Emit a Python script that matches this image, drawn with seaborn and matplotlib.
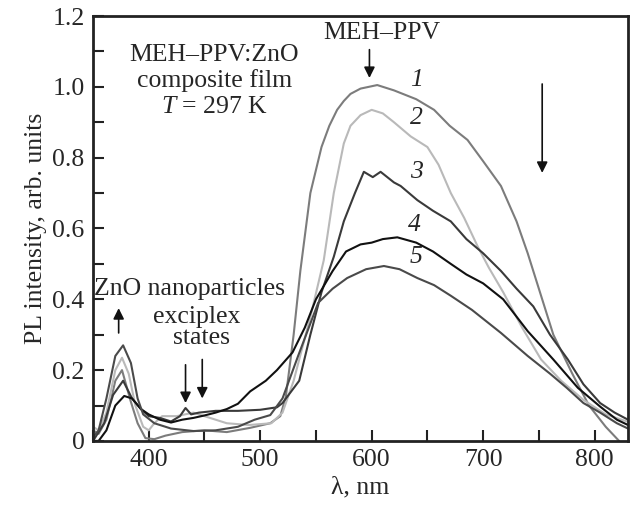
import numpy as np
import pandas as pd
import seaborn as sns
import matplotlib
matplotlib.use('Agg')
import matplotlib.pyplot as plt
from matplotlib.ticker import MultipleLocator, FixedFormatter, FixedLocator

# curve 1
wl_1 = [350, 355, 362, 370, 376, 384, 390, 397, 405, 415, 430, 450, 470, 491, 509, 518, 523,
        530, 536, 545, 555, 562, 569, 575, 581, 590, 605, 620, 640, 656, 670, 686, 700, 716, 730,
        740, 750, 763, 780, 795, 810, 822]
pl_1 = [0.03, 0.02, 0.06, 0.17, 0.20, 0.11, 0.05, 0.008, 0.005, 0.015, 0.025, 0.03, 0.025, 0.037,
        0.05, 0.07, 0.125, 0.30, 0.48, 0.70, 0.83, 0.89, 0.935, 0.96, 0.98, 0.995, 1.005, 0.99,
        0.965, 0.935, 0.89, 0.85, 0.79, 0.72, 0.62, 0.53, 0.43, 0.30, 0.19, 0.10, 0.04, 0.0]

# curve 2
wl_2 = [350, 355, 362, 370, 376, 382, 388, 395, 400, 405, 412, 425, 440, 455, 470, 490, 510, 520,
        530, 545, 557, 566, 575, 581, 590, 600, 610, 620, 635, 650, 660, 671, 683, 695, 705, 718,
        735, 752, 770, 790, 810, 830]
pl_2 = [0.04, 0.03, 0.08, 0.20, 0.235, 0.19, 0.10, 0.04, 0.03, 0.05, 0.07, 0.07, 0.08, 0.065,
        0.05, 0.045, 0.05, 0.08, 0.17, 0.35, 0.51, 0.70, 0.84, 0.89, 0.92, 0.935, 0.925, 0.90,
        0.86, 0.83, 0.78, 0.70, 0.63, 0.55, 0.49, 0.42, 0.32, 0.23, 0.17, 0.116, 0.075, 0.054]

# curve 3
wl_3 = [350, 360, 368, 377, 385, 393, 400, 410, 420, 428, 433, 438, 445, 460, 480, 500, 515, 520,
        535, 545, 555, 566, 575, 585, 593, 601, 608, 620, 626, 641, 655, 671, 685, 700, 716, 730,
        745, 760, 776, 790, 805, 818, 830]
pl_3 = [0.0, 0.05, 0.13, 0.17, 0.12, 0.09, 0.07, 0.065, 0.055, 0.07, 0.093, 0.075, 0.08, 0.085,
        0.085, 0.088, 0.095, 0.107, 0.17, 0.30, 0.42, 0.52, 0.62, 0.70, 0.76, 0.745, 0.76, 0.73,
        0.72, 0.68, 0.65, 0.62, 0.57, 0.53, 0.48, 0.43, 0.38, 0.30, 0.23, 0.16, 0.107, 0.08, 0.06]

# curve 4
wl_4 = [350, 355, 362, 370, 378, 385, 393, 400, 410, 420, 430, 440, 450, 460, 470, 480, 491, 505,
        515, 529, 540, 550, 565, 577, 590, 600, 610, 623, 640, 655, 671, 685, 700, 718, 740, 763,
        785, 805, 820, 830]
pl_4 = [0.0, 0.0, 0.03, 0.10, 0.127, 0.12, 0.09, 0.075, 0.06, 0.052, 0.06, 0.065, 0.072, 0.08,
        0.09, 0.105, 0.14, 0.17, 0.20, 0.25, 0.32, 0.40, 0.48, 0.535, 0.555, 0.56, 0.57, 0.575,
        0.56, 0.535, 0.50, 0.47, 0.445, 0.40, 0.31, 0.23, 0.15, 0.097, 0.06, 0.045]

# curve 5
wl_5 = [350, 355, 362, 370, 377, 384, 390, 395, 405, 420, 440, 460, 480, 495, 509, 520, 534, 552,
        565, 578, 595, 611, 625, 641, 656, 671, 690, 716, 740, 760, 775, 790, 805, 820, 830]
pl_5 = [0.01, 0.03, 0.12, 0.24, 0.27, 0.22, 0.12, 0.075, 0.05, 0.035, 0.028, 0.03, 0.04, 0.06,
        0.073, 0.12, 0.24, 0.39, 0.43, 0.46, 0.485, 0.494, 0.485, 0.46, 0.44, 0.41, 0.37, 0.305,
        0.24, 0.19, 0.15, 0.107, 0.08, 0.05, 0.035]

curve_names = ['1', '2', '3', '4', '5']
curve_colors = ['#7c7c7c', '#b9b9b9', '#3a3a3a', '#111111', '#4a4a4a']
label_pos = [(640, 1.02), (640, 0.912), (640, 0.76), (638, 0.61), (640, 0.52)]

sns.set_style('ticks')
plt.rcParams['font.family'] = ['Liberation Serif', 'DejaVu Serif']
plt.rcParams['mathtext.fontset'] = 'custom'
plt.rcParams['mathtext.it'] = 'Liberation Serif:italic'
plt.rcParams['mathtext.rm'] = 'Liberation Serif'
plt.rcParams['font.size'] = 18.5

frames = []
for name, wl, pl in zip(curve_names, [wl_1, wl_2, wl_3, wl_4, wl_5], [pl_1, pl_2, pl_3, pl_4, pl_5]):
    frames.append(pd.DataFrame({'wl': wl, 'pl': pl, 'curve': name}))
df = pd.concat(frames, ignore_index=True)

fig = plt.figure(figsize=(6.35, 5.08), dpi=100)
ax = fig.add_axes([0.1465, 0.132, 0.8425, 0.8365])
sns.lineplot(data=df, x='wl', y='pl', hue='curve', palette=curve_colors,
             linewidth=1.5, legend=False, ax=ax, sort=False, estimator=None)

ax.set_xlim(350, 830)
ax.set_ylim(0, 1.2)
ax.xaxis.set_major_locator(FixedLocator([400, 500, 600, 700, 800]))
ax.xaxis.set_minor_locator(MultipleLocator(50))
ax.yaxis.set_major_locator(FixedLocator([0, 0.2, 0.4, 0.6, 0.8, 1.0, 1.2]))
ax.yaxis.set_major_formatter(FixedFormatter(['0', '0.2', '0.4', '0.6', '0.8', '1.0', '1.2']))
ax.yaxis.set_minor_locator(MultipleLocator(0.1))
ax.tick_params(which='both', direction='in', top=False, right=False, width=1.5, color='#222222')
ax.tick_params(which='major', length=8, labelsize=18.5, pad=6)
ax.tick_params(which='minor', length=8)
for s in ax.spines.values():
    s.set_linewidth(2)
    s.set_color('#222222')

ax.set_xlabel('λ, nm', fontsize=18.5, labelpad=4)
ax.set_ylabel('PL intensity, arb. units', fontsize=18.5, labelpad=4)

for name, (x, y) in zip(curve_names, label_pos):
    ax.text(x, y, name, fontsize=18.5, style='italic', ha='center', va='center')

ax.text(0.227, 0.908, 'MEH–PPV:ZnO', transform=ax.transAxes, ha='center', va='center', fontsize=18.5)
ax.text(0.227, 0.849, 'composite film', transform=ax.transAxes, ha='center', va='center', fontsize=18.5)
ax.text(0.227, 0.786, '$T$ = 297 K', transform=ax.transAxes, ha='center', va='center', fontsize=18.5)
ax.text(609, 1.152, 'MEH–PPV', ha='center', va='center', fontsize=18.5)
ax.text(437, 0.43, 'ZnO nanoparticles', ha='center', va='center', fontsize=18.5)
ax.text(443, 0.35, 'exciplex', ha='center', va='center', fontsize=18.5)
ax.text(447, 0.29, 'states', ha='center', va='center', fontsize=18.5)

arrow = dict(arrowstyle='-|>', color='#111111', lw=1.2, mutation_scale=16, shrinkA=0, shrinkB=0)
ax.annotate('', xy=(598, 1.025), xytext=(598, 1.105), arrowprops=arrow)
ax.annotate('', xy=(753, 0.757), xytext=(753, 1.008), arrowprops=arrow)
ax.annotate('', xy=(373, 0.375), xytext=(373, 0.305), arrowprops=arrow)
ax.annotate('', xy=(433, 0.107), xytext=(433, 0.215), arrowprops=arrow)
ax.annotate('', xy=(448, 0.12), xytext=(448, 0.23), arrowprops=arrow)

fig.savefig('out.png', dpi=100)
